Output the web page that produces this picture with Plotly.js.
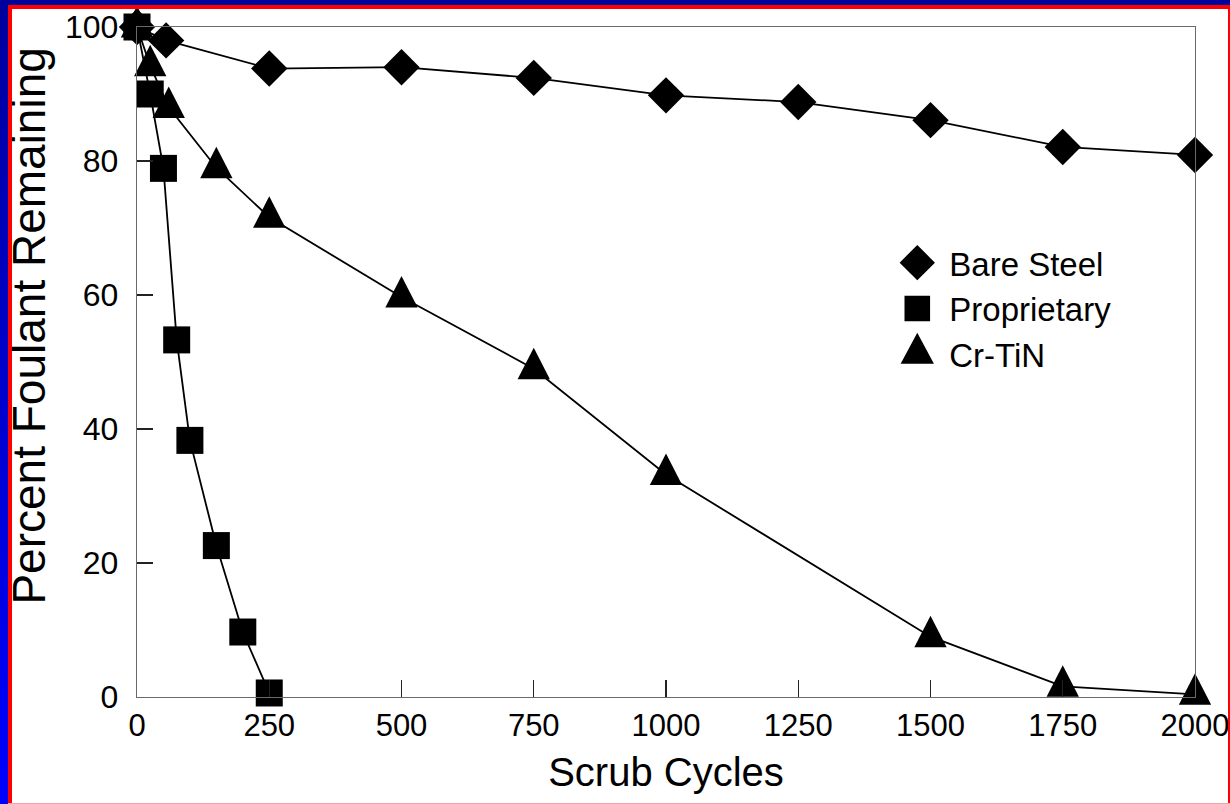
<!DOCTYPE html>
<html>
<head>
<meta charset="utf-8">
<script src="https://cdn.plot.ly/plotly-3.0.1.min.js"></script>
<style>
  html, body { margin: 0; padding: 0; background: #fff; overflow: hidden; }
  #chart { position: absolute; left: 0; top: 0; width: 1230px; height: 804px; background: #fff; }
  .bd { position: absolute; z-index: 10; pointer-events: none; }
  #blueL { left: 0; top: 0; width: 8px; height: 804px; background: linear-gradient(to bottom, #00009c, #0000ff); }
  #blueT { left: 0; top: 0; width: 1230px; height: 5px; background: #00009c; }
  #redL { left: 8px; top: 5px; width: 4px; height: 799px; background: #ff0000; }
  #redT { left: 8px; top: 5px; width: 1222px; height: 4px; background: #ff0000; }
  #redR { left: 1228px; top: 5px; width: 2px; height: 799px; background: #ff0000; }
  #redB { left: 8px; top: 803px; width: 1222px; height: 1px; background: #f4a4a4; }
</style>
</head>
<body>
<div id="chart"></div>
<div class="bd" id="blueL"></div>
<div class="bd" id="blueT"></div>
<div class="bd" id="redL"></div>
<div class="bd" id="redT"></div>
<div class="bd" id="redR"></div>
<div class="bd" id="redB"></div>
<script>
// ---- data ----
const cyclesBare = [0, 55, 250, 500, 750, 1000, 1250, 1500, 1750, 2000];
const bareSteel  = [100, 98, 93.8, 94.0, 92.4, 89.8, 88.8, 86.1, 82.1, 80.9];

const cyclesProp  = [0, 25, 50, 75, 100, 150, 200, 250];
const proprietary = [100, 90, 78.9, 53.3, 38.3, 22.6, 9.7, 0.6];

const cyclesCrTiN = [0, 25, 60, 150, 250, 500, 750, 1000, 1500, 1750, 2000];
const crTiN       = [100, 94.2, 88, 79, 71.6, 59.7, 49, 33.2, 9, 1.6, 0.4];

const seriesNames = ['Bare Steel', 'Proprietary', 'Cr-TiN'];
const xTickVals = [0, 250, 500, 750, 1000, 1250, 1500, 1750, 2000];
const yTickVals = [0, 20, 40, 60, 80, 100];
const xTitle = 'Scrub Cycles';
const yTitle = 'Percent Foulant Remaining';

const FONT = 'Liberation Sans, Arial, sans-serif';
const lineStyle = { color: '#000', width: 1.8 };

const lineTraces = [
  { x: cyclesBare, y: bareSteel },
  { x: cyclesProp, y: proprietary },
  { x: cyclesCrTiN, y: crTiN }
].map(d => Object.assign({}, d, {
  type: 'scatter', mode: 'lines', line: lineStyle, showlegend: false,
  hoverinfo: 'skip', cliponaxis: false
}));

const markerTraces = [
  { x: cyclesBare, y: bareSteel, name: seriesNames[0], marker: { symbol: 'diamond', size: 28, color: '#000' } },
  { x: cyclesProp, y: proprietary, name: seriesNames[1], marker: { symbol: 'square', size: 27, color: '#000' } },
  { x: cyclesCrTiN, y: crTiN, name: seriesNames[2], marker: { symbol: 'triangle-up', size: 28, color: '#000' } }
].map(d => Object.assign({}, d, { type: 'scatter', mode: 'markers', cliponaxis: false }));

const layout = {
  width: 1230, height: 804,
  margin: { l: 136.7, r: 34.5, t: 26.7, b: 107.3 },
  paper_bgcolor: '#fff', plot_bgcolor: '#fff',
  font: { family: FONT, color: '#000', size: 32 },
  showlegend: true,
  legend: {
    x: 0.7205, y: 0.69, xanchor: 'left', yanchor: 'top',
    bgcolor: 'rgba(0,0,0,0)', borderwidth: 0,
    font: { family: FONT, size: 33, color: '#000' },
    itemwidth: 40
  },
  xaxis: {
    range: [0, 2000], tickvals: xTickVals, ticktext: xTickVals.map(String),
    ticks: 'inside', ticklen: 17, tickwidth: 1.2, tickcolor: '#222',
    showline: true, linecolor: '#6a6a6a', linewidth: 1.3, mirror: true,
    showgrid: false, zeroline: false, ticklabeloverflow: 'allow',
    tickfont: { family: FONT, size: 31, color: '#000' },
    title: { text: xTitle, font: { family: FONT, size: 40, color: '#000' }, standoff: 16 }
  },
  yaxis: {
    range: [0, 100], tickvals: yTickVals, ticktext: yTickVals.map(String),
    ticks: 'inside', ticklen: 16, tickwidth: 1.2, tickcolor: '#222',
    showline: true, linecolor: '#6a6a6a', linewidth: 1.3, mirror: true,
    showgrid: false, zeroline: false, ticklabelstandoff: 11,
    tickfont: { family: FONT, size: 32, color: '#000' }
  },
  annotations: [{
    text: yTitle, xref: 'paper', yref: 'paper', x: -0.1025, y: 0.5537,
    xanchor: 'center', yanchor: 'middle', textangle: -90, showarrow: false,
    font: { family: FONT, size: 46, color: '#000' }
  }]
};

const gd = document.getElementById('chart');
Plotly.newPlot(gd, lineTraces.concat(markerTraces), layout, { staticPlot: true, displayModeBar: false })
  .then(() => {
    // Stretch triangles vertically to match the reference's near-equilateral glyphs
    const traces = gd.querySelectorAll('.scatterlayer .trace');
    const triTrace = traces[5];
    if (triTrace) {
      triTrace.querySelectorAll('path.point').forEach(p => {
        const t = p.getAttribute('transform') || '';
        p.setAttribute('transform', t + ' scale(1,1.5)');
      });
    }
    // Enlarge legend symbols (Plotly caps them at 16px)
    const scales = ['translate(-7,0) scale(1.7)', 'translate(-7,0) scale(1.6)', 'translate(-7,-1) scale(1.8,2.6)'];
    gd.querySelectorAll('.legend .traces').forEach((tr, i) => {
      tr.querySelectorAll('.legendpoints path.scatterpts').forEach(p => {
        const t = p.getAttribute('transform') || '';
        p.setAttribute('transform', t + ' ' + (scales[i] || ''));
      });
    });
  });
</script>
</body>
</html>
